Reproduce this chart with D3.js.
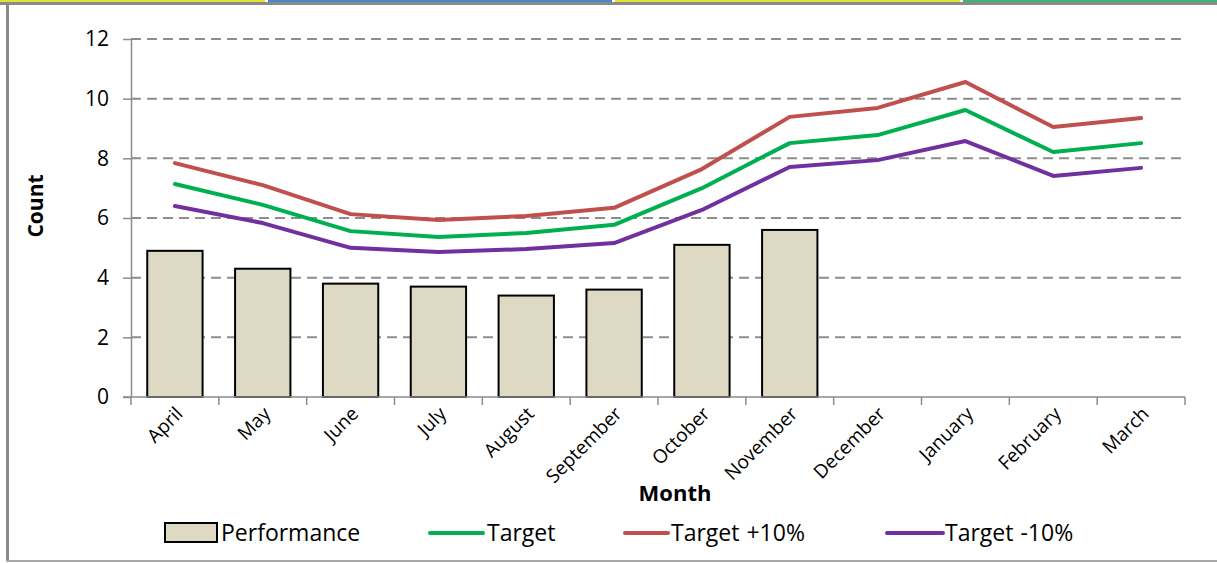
<!DOCTYPE html>
<html>
<head>
<meta charset="utf-8">
<script src="https://cdn.jsdelivr.net/npm/d3@7"></script>
<style>
  body { margin: 0; background: #fff; }
  svg { display: block; font-family: "Open Sans", Lato, sans-serif; }
</style>
</head>
<body>
<div class="chart"></div>
<script>
const months = ["April", "May", "June", "July", "August", "September", "October", "November", "December", "January", "February", "March"]
const performance = [4.9, 4.3, 3.8, 3.7, 3.4, 3.6, 5.1, 5.6]
const target = [7.14, 6.44, 5.56, 5.36, 5.5, 5.77, 7.0, 8.51, 8.78, 9.62, 8.21, 8.51]
const targetPlus = [7.84, 7.1, 6.13, 5.93, 6.07, 6.34, 7.64, 9.39, 9.69, 10.56, 9.05, 9.35]
const targetMinus = [6.4, 5.83, 5.0, 4.86, 4.96, 5.16, 6.27, 7.71, 7.94, 8.58, 7.41, 7.68]
const yTicks = [0, 2, 4, 6, 8, 10, 12]

const width = 1217, height = 563
const plot = {left: 131, right: 1185, top: 39, bottom: 397}

const svg = d3.select('.chart').append('svg')
    .attr('width', width)
    .attr('height', height)

// window frame bits
const strip = [[0, 265, "#e2e232"], [268, 612, "#4a86c8"], [615, 960, "#e2e232"], [963, 1217, "#3cb371"]]
svg.selectAll('.strip').data(strip).enter()
    .append('rect')
    .attr('x', d => d[0]).attr('y', 0)
    .attr('width', d => d[1] - d[0]).attr('height', 2)
    .attr('fill', d => d[2])
svg.append('rect').attr('x', 0).attr('y', 2).attr('width', width).attr('height', 3).attr('fill', '#8a8a8a')
svg.append('rect').attr('x', 6).attr('y', 5).attr('width', 3).attr('height', 556).attr('fill', '#8a8a8a')
svg.append('rect').attr('x', 6).attr('y', 560).attr('width', width - 6).attr('height', 2).attr('fill', '#a8a8a8')

const x = d3.scaleBand()
    .domain(months)
    .range([plot.left, plot.right])
    .padding(0)

const y = d3.scaleLinear()
    .domain([0, 12])
    .range([plot.bottom, plot.top])

// gridlines
svg.selectAll('.grid').data(yTicks.filter(d => d > 0)).enter()
    .append('line')
    .attr('x1', plot.left).attr('x2', plot.right)
    .attr('y1', d => y(d)).attr('y2', d => y(d))
    .attr('stroke', '#8c8c8c')
    .attr('stroke-width', 2)
    .attr('stroke-dasharray', '10,6')

// y axis
const yAxis = svg.append('g')
    .attr('transform', `translate(${plot.left},0)`)
    .call(d3.axisLeft(y).tickValues(yTicks).tickSize(8).tickPadding(14).tickSizeOuter(0))
yAxis.select('.domain').attr('stroke', '#8c8c8c').attr('stroke-width', 1.5)
yAxis.selectAll('.tick line').attr('stroke', '#8c8c8c').attr('stroke-width', 1.5)
yAxis.selectAll('.tick text').attr('font-size', '21px').attr('fill', '#000').attr('font-family', '"Open Sans", sans-serif')

// bars
const barW = x.bandwidth() * 0.63
svg.selectAll('.bar').data(performance).enter()
    .append('rect')
    .attr('class', 'bar')
    .attr('x', (d, i) => x(months[i]) + (x.bandwidth() - barW) / 2)
    .attr('y', d => y(d))
    .attr('width', barW)
    .attr('height', d => y(0) - y(d))
    .attr('fill', '#ddd9c3')
    .attr('stroke', '#000')
    .attr('stroke-width', 2)

// x axis
const xAxis = svg.append('g')
    .attr('transform', `translate(0,${plot.bottom})`)
    .call(d3.axisBottom(x).tickSize(0).tickSizeOuter(0))
xAxis.select('.domain').attr('stroke', '#8c8c8c').attr('stroke-width', 1.5)
    .attr('d', `M${plot.left - 8},0H${plot.right}`)
xAxis.selectAll('.tick text')
    .attr('font-size', '19px')
    .attr('font-family', '"Open Sans", sans-serif')
    .attr('fill', '#000')
    .attr('text-anchor', 'end')
    .attr('dy', 0)
    .attr('transform', 'translate(9,18) rotate(-45)')
    .attr('y', 0).attr('x', 0)
// category boundary ticks
svg.selectAll('.xtick').data(d3.range(months.length + 1)).enter()
    .append('line')
    .attr('x1', i => plot.left + i * x.step()).attr('x2', i => plot.left + i * x.step())
    .attr('y1', plot.bottom).attr('y2', plot.bottom + 8)
    .attr('stroke', '#8c8c8c').attr('stroke-width', 1.5)

// lines
const line = d3.line()
    .x((d, i) => x(months[i]) + x.bandwidth() / 2)
    .y(d => y(d))
const series = [
    {name: "Target", values: target, color: "#00b050"},
    {name: "Target +10%", values: targetPlus, color: "#c0504d"},
    {name: "Target -10%", values: targetMinus, color: "#7030a0"}
]
svg.selectAll('.series').data(series).enter()
    .append('path')
    .attr('d', d => line(d.values))
    .attr('fill', 'none')
    .attr('stroke', d => d.color)
    .attr('stroke-width', 4)
    .attr('stroke-linejoin', 'round')
    .attr('stroke-linecap', 'round')

// axis titles
svg.append('text')
    .attr('x', 675).attr('y', 501)
    .attr('text-anchor', 'middle')
    .attr('font-size', '22px').attr('font-weight', 'bold')
    .text('Month')
svg.append('text')
    .attr('transform', 'translate(43,206) rotate(-90)')
    .attr('text-anchor', 'middle')
    .attr('font-size', '21px').attr('font-weight', 'bold')
    .text('Count')

// legend
const legend = svg.append('g').attr('font-size', '23px').attr('word-spacing', '1px')
legend.append('rect')
    .attr('x', 165).attr('y', 523).attr('width', 52).attr('height', 19)
    .attr('fill', '#ddd9c3').attr('stroke', '#000').attr('stroke-width', 2)
legend.append('text').attr('x', 221).attr('y', 541).text('Performance')
const legLines = [[430, 483, 487], [625, 668, 671], [887, 943, 945]]
series.forEach((s, i) => {
    const p = legLines[i]
    legend.append('line')
        .attr('x1', p[0]).attr('x2', p[1]).attr('y1', 533).attr('y2', 533)
        .attr('stroke', s.color).attr('stroke-width', 4).attr('stroke-linecap', 'round')
    legend.append('text').attr('x', p[2]).attr('y', 541).text(s.name)
})
</script>
</body>
</html>
